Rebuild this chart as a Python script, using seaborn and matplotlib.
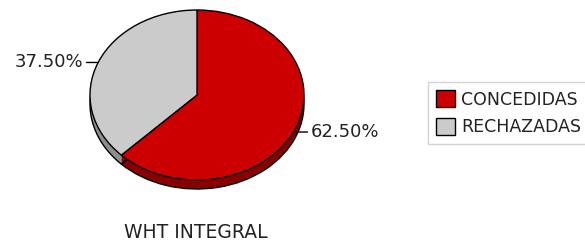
import matplotlib.pyplot as plt
import numpy as np
import seaborn as sns

sns.set_theme(style="white")
plt.rcParams["font.family"] = ["DejaVu Sans"]

# data
labels = ["CONCEDIDAS", "RECHAZADAS"]
values = [62.5, 37.5]
title = "WHT INTEGRAL"

colors = ["#cc0000", "#cbcbcb"]
shade = ["#8a0000", "#8e8e8e"]

fig = plt.figure(figsize=(5.85, 2.4), dpi=100)
# pie area in pixels: x 90..304, y 10..190 (top face 170px tall, 9px wall)
ax = fig.add_axes([90 / 585, 50 / 240, 214 / 585, 180 / 240])
depth = 9 / 85

# side wall: stack of darker pies
for off in np.linspace(depth, 0.01, 10):
    w, _ = ax.pie(values, colors=shade, startangle=90, counterclock=False,
                  center=(0, -off), wedgeprops=dict(linewidth=0))
ax.pie(values, colors=["none", "none"], startangle=90, counterclock=False,
       center=(0, -depth), wedgeprops=dict(edgecolor="black", linewidth=1))
wedges, _ = ax.pie(values, colors=colors, startangle=90, counterclock=False,
                   wedgeprops=dict(edgecolor="black", linewidth=1))

for p in ax.patches:
    p.set_clip_on(False)

ax.set_aspect("auto")
ax.set_xlim(-1, 1)
ax.set_ylim(1 - 180 / 85, 1)
ax.axis("off")

# percentage labels with link lines (right one hangs off the side wall)
vals = np.array(values)
mids = np.deg2rad(90 - 360 * (np.cumsum(vals) - vals / 2) / vals.sum())
for v, a in zip(vals, mids):
    x, y = np.cos(a), np.sin(a)
    side = 1 if x > 0 else -1
    if side > 0:
        y -= depth / 2
    ax.annotate(f"{v:.2f}%", xy=(x, y), xytext=(side * 15, 0),
                textcoords="offset pixels", ha="left" if side > 0 else "right",
                va="center", fontsize=13, color="#222222",
                arrowprops=dict(arrowstyle="-", color="black", lw=1,
                                shrinkA=0, shrinkB=0), annotation_clip=False)

fig.text(196 / 585, 1 - 232 / 240, title, ha="center", va="center",
         fontsize=13.5, color="#222222")

leg = fig.legend(wedges, labels, loc="center left",
                 bbox_to_anchor=(428 / 585, 0.528), frameon=True,
                 fancybox=False, edgecolor="#c8c8c8", fontsize=12.5,
                 handlelength=1.1, handleheight=1.1, handletextpad=0.35,
                 labelspacing=0.55, borderpad=0.45, borderaxespad=0)
leg.get_frame().set_linewidth(1)
for t in leg.get_texts():
    t.set_color("#222222")

fig.savefig("out.png", dpi=100, facecolor="white")
